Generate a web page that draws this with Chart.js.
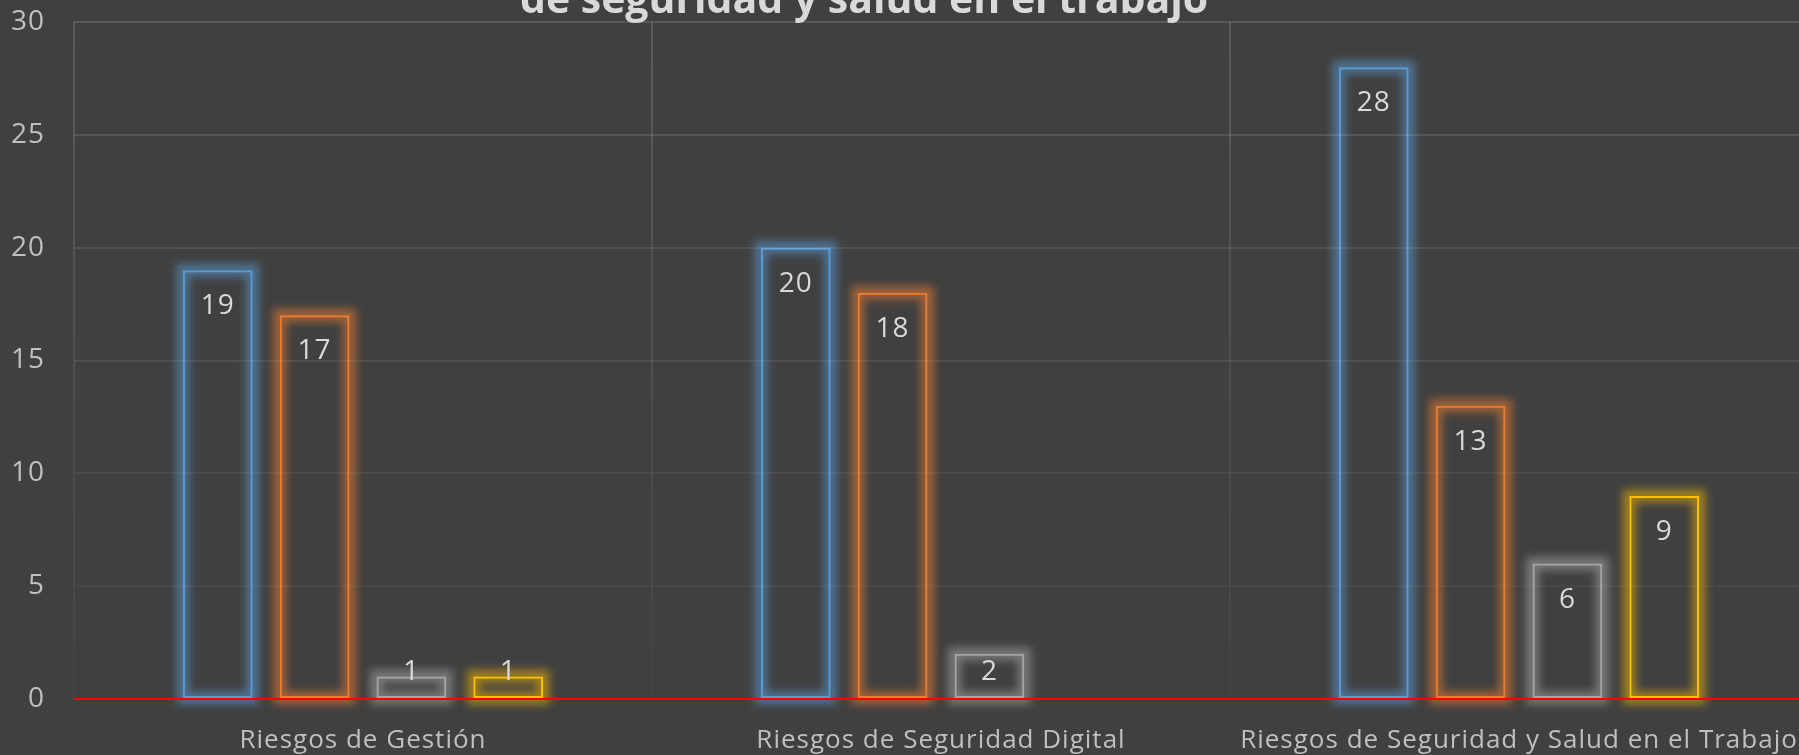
<!DOCTYPE html>
<html>
<head>
<meta charset="utf-8">
<script src="https://cdn.jsdelivr.net/npm/chart.js@4.4.1/dist/chart.umd.min.js"></script>
<style>
  html, body { margin: 0; padding: 0; background: #404040; overflow: hidden; }
  #wrap { position: absolute; left: 0; top: 0; width: 1808px; height: 755px; }
</style>
</head>
<body>
<div id="wrap"><canvas id="chart"></canvas></div>
<script>
// Categories on the x axis
const categories = ['Riesgos de Gestión', 'Riesgos de Seguridad Digital', 'Riesgos de Seguridad y Salud en el Trabajo'];

// One array per series (blue, orange, grey, yellow)
const serieAzul = [19, 20, 28];
const serieNaranja = [17, 18, 13];
const serieGris = [1, 2, 6];
const serieAmarilla = [1, null, 9];

// y axis ticks
const yMin = 0;
const yMax = 30;
const yStep = 5;

// only the bottom line of the title is visible
const titleText = 'de seguridad y salud en el trabajo';

// Excel text is a bit spaced out, Chart.js has no option for it
const spacing = {
    id: 'spacing',
    beforeDraw(chart) { chart.ctx.letterSpacing = '1px'; },
    afterDraw(chart) { chart.ctx.letterSpacing = '0px'; }
};

// soft outer glow round every bar, like the Excel effect
const glowPlugin = {
    id: 'glow',
    beforeDatasetsDraw(chart) {
        const ctx = chart.ctx;
        chart.data.datasets.forEach((ds, i) => {
            chart.getDatasetMeta(i).data.forEach((bar, j) => {
                if (ds.data[j] == null) return;
                const p = bar.getProps(['x', 'y', 'base', 'width'], true);
                ctx.save();
                ctx.filter = 'blur(4px)';
                ctx.strokeStyle = ds.glowColor;
                ctx.lineWidth = 13;
                ctx.strokeRect(p.x - p.width / 2, p.y, p.width, p.base - p.y);
                ctx.restore();
            });
        });
    }
};

// value labels near the top, inside the bar
const valueLabels = {
    id: 'valueLabels',
    afterDatasetsDraw(chart) {
        const ctx = chart.ctx;
        ctx.save();
        ctx.font = '28px "Open Sans"';
        ctx.fillStyle = '#d9d9d9';
        ctx.textAlign = 'center';
        ctx.textBaseline = 'middle';
        chart.data.datasets.forEach((ds, i) => {
            chart.getDatasetMeta(i).data.forEach((bar, j) => {
                const v = ds.data[j];
                if (v == null) return;
                // short bars: Excel pushes the label up over the top edge
                const ly = Math.min(bar.y + 36, bar.base - 26);
                ctx.fillText(String(v), bar.x, ly);
            });
        });
        ctx.restore();
    }
};

// title, cut at the top edge of the picture
const topTitle = {
    id: 'topTitle',
    afterDraw(chart) {
        const ctx = chart.ctx;
        ctx.save();
        ctx.letterSpacing = '0px';
        ctx.font = 'bold 41px "Open Sans"';
        ctx.fillStyle = '#d9d9d9';
        ctx.textAlign = 'center';
        ctx.textBaseline = 'alphabetic';
        ctx.fillText(titleText, 864, 13);
        ctx.restore();
    }
};

function makeSet(label, data, color, glow) {
    return {
        label: label,
        data: data,
        borderColor: color,
        backgroundColor: 'transparent',
        borderWidth: 2,
        borderSkipped: false,
        glowColor: glow,
        categoryPercentage: 0.67,
        barPercentage: 0.72
    };
}

const ctx = document.getElementById('chart').getContext('2d');
new Chart(ctx, {
    type: 'bar',
    data: {
        labels: categories,
        datasets: [
            makeSet('Serie 1', serieAzul, '#5B9BD5', 'rgba(91,155,213,0.55)'),
            makeSet('Serie 2', serieNaranja, '#ED7D31', 'rgba(237,125,49,0.55)'),
            makeSet('Serie 3', serieGris, '#A5A5A5', 'rgba(165,165,165,0.55)'),
            makeSet('Serie 4', serieAmarilla, '#FFC000', 'rgba(255,192,0,0.5)')
        ]
    },
    plugins: [spacing, glowPlugin, valueLabels, topTitle],
    options: {
        responsive: true,
        maintainAspectRatio: false,
        animation: false,
        layout: { padding: { top: 22, left: 0, right: 0, bottom: 0 } },
        plugins: {
            legend: { display: false },
            tooltip: { enabled: false },
            title: { display: false }
        },
        scales: {
            x: {
                grid: {
                    offset: true,
                    drawTicks: false,
                    lineWidth: 2,
                    color: function(c) {
                        const area = c.chart.chartArea;
                        if (!area) return 'rgba(255,255,255,0.1)';
                        const g = c.chart.ctx.createLinearGradient(0, area.top, 0, area.bottom);
                        g.addColorStop(0, 'rgba(255,255,255,0.14)');
                        g.addColorStop(1, 'rgba(255,255,255,0.02)');
                        return g;
                    }
                },
                border: { display: false },
                ticks: {
                    color: '#bfbfbf',
                    font: { family: 'Open Sans', size: 26 },
                    padding: 26,
                    maxRotation: 0,
                    autoSkip: false
                },
                afterFit: function(scale) { scale.height = 56; }
            },
            y: {
                min: yMin,
                max: yMax,
                ticks: {
                    stepSize: yStep,
                    color: '#bfbfbf',
                    font: { family: 'Open Sans', size: 28 },
                    padding: 29
                },
                grid: {
                    z: 1,
                    drawTicks: false,
                    lineWidth: 2,
                    color: c => c.tick.value === 0 ? '#ff0000' : 'rgba(255,255,255,' + (0.01 + 0.004 * c.tick.value) + ')'
                },
                border: { display: false },
                afterFit: function(scale) {
                    // tick padding also pads the top, which Excel does not do
                    scale.width = 74;
                    scale.paddingTop = 0;
                    scale.paddingBottom = 0;
                }
            }
        }
    }
});
</script>
</body>
</html>
